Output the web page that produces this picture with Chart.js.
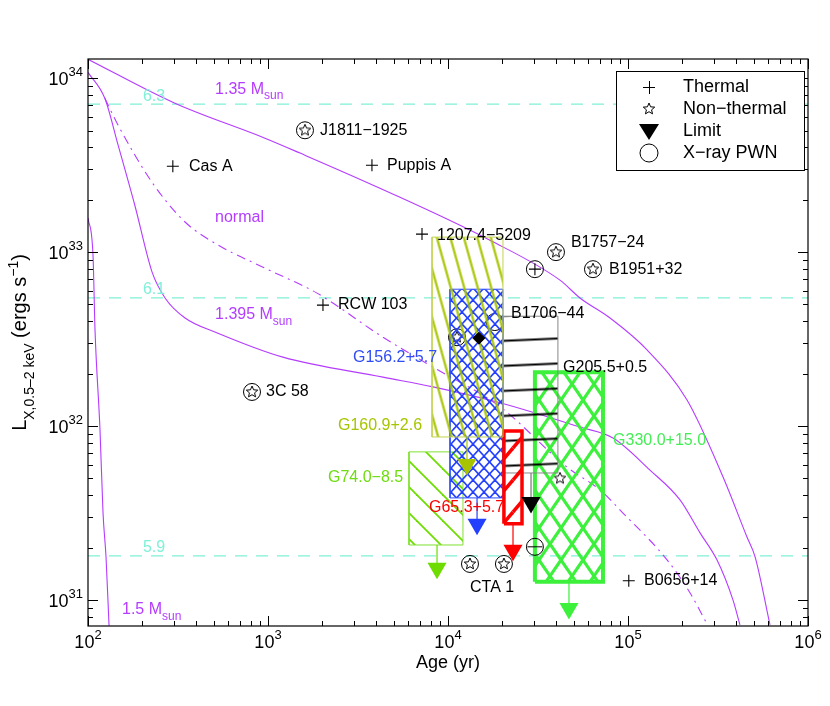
<!DOCTYPE html>
<html>
<head>
<meta charset="utf-8">
<script src="https://cdn.jsdelivr.net/npm/chart.js@4"></script>
<style>
  body { margin: 0; background: #fff; }
</style>
</head>
<body>
<canvas id="myChart" width="830" height="706"></canvas>
<script>
// cooling curves (age in yr, L in erg/s)
const age135 = [100, 304, 962, 1507, 4188, 17100, 41880, 54080, 79430, 127600, 212800, 337300, 458100, 508200, 615200];
const lum135 = [1.285e34, 7.18e33, 4.52e33, 3.71e33, 2.33e33, 1.17e33, 6.90e32, 5.45e32, 4.18e32, 2.74e32, 1.41e32, 5.09e31, 2.30e31, 1.77e31, 7.18e30];

const age1395 = [100, 124, 147, 182, 227, 268, 346, 527, 1211, 4355, 8260, 19450, 54080, 82600, 132400, 194500, 251200, 311900, 382800, 418800];
const lum1395 = [1.08e34, 7.67e33, 4.12e33, 1.86e33, 7.67e32, 5.45e32, 4.18e32, 3.42e32, 2.49e32, 1.91e32, 1.68e32, 1.36e32, 9.86e31, 8.53e31, 5.58e31, 3.76e31, 2.43e31, 1.70e31, 1.00e31, 7.18e30];

const ageNormal = [124, 147, 227, 346, 527, 962, 1871, 4355, 8260, 19450, 45810, 69870, 93760, 164800, 220800, 278000];
const lumNormal = [7.67e33, 5.37e33, 2.52e33, 1.49e33, 1.10e33, 8.09e32, 5.81e32, 3.24e32, 2.18e32, 1.29e32, 5.81e31, 4.29e31, 3.16e31, 1.70e31, 1.10e31, 7.10e30];

const age15 = [100, 106.6, 109.4, 116.6, 121.2, 125.9, 130.9];
const lum15 = [1.57e33, 9.62e32, 3.56e32, 9.48e31, 3.16e31, 1.77e31, 7.10e30];

// horizontal reference levels
const levelLum = [7.1e33, 5.45e32, 1.79e31];
const levelText = ['6.3', '6.1', '5.9'];

// sources
const thermalAge = [296, 3780, 7170, 2020, 101000, 30400];
const thermalLum = [3.12e33, 3.16e33, 1.27e33, 4.96e32, 1.29e31, 7.98e32];

const starAge = [1605, 815, 39800, 63900, 13250, 20450];
const starLum = [5.02e33, 1.57e32, 1.0e33, 7.98e32, 1.61e31, 1.61e31];

const pwnAge = [1605, 815, 39800, 63900, 13250, 20450, 30400, 30400];
const pwnLum = [5.02e33, 1.57e32, 1.0e33, 7.98e32, 1.61e31, 1.61e31, 7.98e32, 2.02e31];

// sources partly hidden under the hatched boxes
const starBehindAge = [11220, 41900];
const starBehindLum = [3.24e32, 5.0e31];
const pwnBehindAge = [11220, 18200];
const pwnBehindLum = [3.24e32, 3.96e32];

const diamondAge = [14860];
const diamondLum = [3.2e32];

// luminosity ranges of remnants with upper limits
const boxName = ['G160.9+2.6', 'G156.2+5.7', 'G74.0-8.5', 'G65.3+5.7', 'G330.0+15.0', 'G205.5+0.5'];
const boxAgeLo = [8150, 10260, 6070, 20450, 30400, 20200];
const boxAgeHi = [20200, 20200, 12110, 25770, 72600, 40800];
const boxLumLo = [8.65e31, 3.86e31, 2.07e31, 2.74e31, 1.27e31, 5.37e31];
const boxLumHi = [1.22e33, 6.12e32, 7.10e31, 9.35e31, 2.04e32, 4.28e32];
const limitAge = [12750, 14500, 8690, 22970, 47000, 28920];
const limitLum = [6.01e31, 2.72e31, 1.52e31, 1.93e31, 8.94e30, 3.63e31];

// axes
const xTickExp = [2, 3, 4, 5, 6];
const yTickExp = [31, 32, 33, 34];

// text labels
const noteText = ['Cas A', 'Puppis A', '1207.4\u22125209', 'RCW 103', 'J1811\u22121925', '3C 58', 'B1757\u221224', 'B1951+32', 'B1706\u221244', 'G205.5+0.5', 'G156.2+5.7', 'G160.9+2.6', 'G74.0\u22128.5', 'G65.3+5.7', 'G330.0+15.0', 'CTA 1', 'B0656+14'];
const noteAge = [364, 4585, 8690, 2449, 1945, 975, 48200, 78400, 22390, 43600, 2966, 2449, 2154, 7840, 82600, 13250, 122700];
const noteLum = [3.12e33, 3.16e33, 1.24e33, 5.02e32, 5.02e33, 1.57e32, 1.13e33, 7.98e32, 4.46e32, 2.18e32, 2.49e32, 1.01e32, 5.02e31, 3.38e31, 8.2e31, 1.17e31, 1.30e31];
const curveText = ['1.35 M', 'normal', '1.395 M', '1.5 M'];
const curveAge = [508, 508, 508, 154.5];
const curveLum = [8.65e33, 1.59e33, 4.35e32, 8.77e30];


const purple = '#b43cff';
const cyan = '#80f0d8';
const FONT = '"Liberation Sans", Arial, sans-serif';
const noteColor = {'G156.2+5.7': '#2f4cf5', 'G160.9+2.6': '#a8c400', 'G74.0\u22128.5': '#6edc10', 'G65.3+5.7': '#ff0000', 'G330.0+15.0': '#44ee55'};

const canvas = document.getElementById('myChart');
const ctx = canvas.getContext('2d');

function hatch(w, h, color, lw, segs, angle) {
  const c = document.createElement('canvas');
  c.width = w; c.height = h;
  const g = c.getContext('2d');
  g.strokeStyle = color; g.lineWidth = lw;
  for (const dx of [-w, 0, w]) for (const dy of [-h, 0, h]) {
    for (const s of segs) {
      g.beginPath(); g.moveTo(s[0] + dx, s[1] + dy); g.lineTo(s[2] + dx, s[3] + dy); g.stroke();
    }
  }
  const p = ctx.createPattern(c, 'repeat');
  if (angle) p.setTransform(new DOMMatrix().rotate(angle));
  return p;
}

function starImg(r) {
  const s = 2 * r + 4;
  const c = document.createElement('canvas');
  c.width = c.height = s;
  const g = c.getContext('2d');
  g.strokeStyle = '#000'; g.lineWidth = 1;
  g.beginPath();
  for (let i = 0; i < 10; i++) {
    const a = -Math.PI / 2 + i * Math.PI / 5;
    const rr = i % 2 ? r * 0.45 : r;
    const px = s / 2 + rr * Math.cos(a), py = s / 2 + rr * Math.sin(a);
    if (i) g.lineTo(px, py); else g.moveTo(px, py);
  }
  g.closePath(); g.stroke();
  return c;
}

const boxLook = [
  {edge: '#c4d450', width: 1, fill: hatch(13, 13, '#a8c400', 2.2, [[6.5, 0, 6.5, 13]], -15.5), order: 3, color: '#a8c400', stem: '#a8c400'},
  {edge: '#3050ff', width: 1, fill: hatch(11, 12, '#2440ff', 1.6, [[0, 0, 11, 12], [11, 0, 0, 12]]), order: 5, color: '#2440ff', stem: '#2440ff'},
  {edge: '#80e030', width: 1, fill: hatch(26, 26, '#6edc00', 1.8, [[0, 0, 26, 26]]), order: 8, color: '#6edc00', stem: '#6edc00'},
  {edge: '#ff0000', width: 3.5, fill: hatch(27, 32, '#ff0000', 3.5, [[0, 32, 27, 0]]), order: 4, color: '#ff0000', stem: '#ff0000'},
  {edge: '#3cf03c', width: 4, fill: hatch(22, 32, '#3cf03c', 3.2, [[0, 0, 22, 32], [22, 0, 0, 32]]), order: 7, color: '#3cf03c', stem: '#3cf03c'},
  {edge: '#888888', width: 1, fill: hatch(50, 25, '#000000', 2, [[0, 12.5, 50, 12.5]], -2.5), order: 6, color: '#000000', stem: '#777777'}
];

const pts = (xs, ys) => xs.map((v, i) => ({x: v, y: ys[i]}));

const datasets = [];

// boxes, stems and limit arrows
boxName.forEach((name, i) => {
  const look = boxLook[i];
  datasets.push({
    label: name,
    data: [
      {x: boxAgeLo[i], y: boxLumLo[i]}, {x: boxAgeHi[i], y: boxLumLo[i]},
      {x: boxAgeHi[i], y: boxLumHi[i]}, {x: boxAgeLo[i], y: boxLumHi[i]},
      {x: boxAgeLo[i], y: boxLumLo[i]}
    ],
    showLine: true, fill: 'shape', backgroundColor: look.fill,
    borderColor: look.edge, borderWidth: look.width, borderJoinStyle: 'miter',
    pointRadius: 0, order: look.order
  });
  datasets.push({
    data: [{x: limitAge[i], y: boxLumLo[i]}, {x: limitAge[i], y: limitLum[i]}],
    showLine: true, borderColor: look.stem, borderWidth: 1.2,
    pointRadius: [0, 11], pointStyle: 'triangle', rotation: 180,
    pointBackgroundColor: look.color, pointBorderWidth: 0, order: 0
  });
});

// markers
datasets.push({label: 'Thermal', data: pts(thermalAge, thermalLum), pointStyle: 'cross', pointRadius: 6, borderColor: '#000', pointBorderWidth: 1.1, order: 2});
datasets.push({label: 'Non-thermal', data: pts(starAge, starLum), pointStyle: starImg(6), order: 2});
datasets.push({label: 'X-ray PWN', data: pts(pwnAge, pwnLum), pointStyle: 'circle', pointRadius: 8.5, borderColor: '#000', backgroundColor: 'rgba(0,0,0,0)', pointBorderWidth: 1, order: 2});
datasets.push({data: [{x: pwnAge[7], y: pwnLum[7]}], pointStyle: 'line', pointRadius: 7.5, borderColor: '#000', pointBorderWidth: 1, order: 2});
datasets.push({data: pts(starBehindAge, starBehindLum), pointStyle: starImg(6), order: 9});
datasets.push({data: pts(pwnBehindAge, pwnBehindLum), pointStyle: 'circle', pointRadius: 8.5, borderColor: '#000', backgroundColor: 'rgba(0,0,0,0)', pointBorderWidth: 1, order: 9});
datasets.push({data: pts(diamondAge, diamondLum), pointStyle: 'rectRot', pointRadius: 6, backgroundColor: '#000', borderColor: '#000', order: 1});

// cooling curves
function curve(xs, ys, dash) {
  datasets.push({data: pts(xs, ys), showLine: true, borderColor: purple, borderWidth: 1.1,
    borderDash: dash, pointRadius: 0, cubicInterpolationMode: 'monotone', order: 10});
}
curve(age135, lum135, []);
curve(age1395, lum1395, []);
curve(ageNormal, lumNormal, [9, 5, 2, 5]);
curve(age15, lum15, []);

levelLum.forEach(v => {
  datasets.push({data: [{x: 100, y: v}, {x: 1e6, y: v}], showLine: true, borderColor: cyan,
    borderWidth: 1.2, borderDash: [12, 9], pointRadius: 0, order: 11});
});

function rich(c, parts, x, y, size, align) {
  let total = 0;
  const ws = parts.map(p => {
    c.font = (p[1] ? Math.round(size * 0.72) : size) + 'px ' + FONT;
    const w = c.measureText(p[0]).width; total += w; return w;
  });
  if (align === 'center') x -= total / 2;
  if (align === 'right') x -= total;
  parts.forEach((p, i) => {
    c.font = (p[1] ? Math.round(size * 0.72) : size) + 'px ' + FONT;
    const dy = p[1] === 1 ? size * 0.42 : p[1] === 2 ? -size * 0.42 : 0;
    c.fillText(p[0], x, y + dy);
    x += ws[i];
  });
  return total;
}

const decor = {
  id: 'decor',
  afterDraw(chart) {
    const c = chart.ctx;
    const a = chart.chartArea;
    const xs = chart.scales.x, ys = chart.scales.y;
    c.save();
    c.strokeStyle = '#000'; c.lineWidth = 1.2;
    c.strokeRect(a.left, a.top, a.right - a.left, a.bottom - a.top);
    c.lineWidth = 1;
    c.beginPath();
    for (let e = 2; e <= 6; e++) for (let m = 1; m < 10; m++) {
      const v = m * Math.pow(10, e);
      if (v > 1e6) break;
      const px = Math.round(xs.getPixelForValue(v)) + 0.5;
      const len = m === 1 ? 10 : 5;
      c.moveTo(px, a.bottom); c.lineTo(px, a.bottom - len);
      c.moveTo(px, a.top); c.lineTo(px, a.top + len);
    }
    for (let e = 30; e <= 34; e++) for (let m = 1; m < 10; m++) {
      const v = m * Math.pow(10, e);
      if (v < ys.min || v > ys.max) continue;
      const py = Math.round(ys.getPixelForValue(v)) + 0.5;
      const len = m === 1 ? 10 : 5;
      c.moveTo(a.left, py); c.lineTo(a.left + len, py);
      c.moveTo(a.right, py); c.lineTo(a.right - len, py);
    }
    c.stroke();

    // tick labels
    c.fillStyle = '#000';
    c.textBaseline = 'middle';
    xTickExp.forEach(e => {
      const px = xs.getPixelForValue(Math.pow(10, e));
      rich(c, [['10', 0], [String(e), 2]], px, a.bottom + 17, 18, 'center');
    });
    yTickExp.forEach(e => {
      const py = ys.getPixelForValue(Math.pow(10, e));
      rich(c, [['10', 0], [String(e), 2]], a.left - 5, py + 2, 18, 'right');
    });
    c.font = '18px ' + FONT;
    c.textAlign = 'center';
    c.fillText('Age (yr)', (a.left + a.right) / 2, 663);
    c.textAlign = 'left';
    // y title
    c.save();
    c.translate(26, (a.top + a.bottom) / 2);
    c.rotate(-Math.PI / 2);
    c.textBaseline = 'alphabetic';
    rich(c, [['L', 0], ['X,0.5\u20132 keV', 1], [' (ergs s', 0], ['\u22121', 2], [')', 0]], 0, 0, 20, 'center');
    c.restore();

    // notes
    c.textBaseline = 'middle';
    noteText.forEach((t, i) => {
      c.fillStyle = noteColor[t] || '#000';
      c.font = '16px ' + FONT;
      c.fillText(t, xs.getPixelForValue(noteAge[i]), ys.getPixelForValue(noteLum[i]));
    });
    c.fillStyle = purple;
    curveText.forEach((t, i) => {
      const parts = t === 'normal' ? [[t, 0]] : [[t, 0], ['sun', 1]];
      rich(c, parts, xs.getPixelForValue(curveAge[i]), ys.getPixelForValue(curveLum[i]), 16, 'left');
    });
    c.fillStyle = cyan;
    levelText.forEach((t, i) => {
      c.font = '16px ' + FONT;
      c.fillText(t, xs.getPixelForValue(202), ys.getPixelForValue(levelLum[i]) - 8);
    });

    // legend
    c.fillStyle = '#fff';
    c.fillRect(616, 71, 188, 99);
    c.strokeStyle = '#000'; c.lineWidth = 1;
    c.strokeRect(616.5, 71.5, 188, 99);
    c.fillStyle = '#000';
    c.font = '18px ' + FONT;
    const lx = 649;
    ['Thermal', 'Non\u2212thermal', 'Limit', 'X\u2212ray PWN'].forEach((t, i) => c.fillText(t, 683, 87 + i * 22));
    c.beginPath();
    c.moveTo(lx - 6, 87.5); c.lineTo(lx + 6, 87.5);
    c.moveTo(lx + 0.5, 81); c.lineTo(lx + 0.5, 94);
    c.stroke();
    c.drawImage(starImg(6), lx - 8, 109 - 8);
    c.beginPath();
    c.moveTo(lx - 10, 124); c.lineTo(lx + 10, 124); c.lineTo(lx, 140); c.closePath(); c.fill();
    c.beginPath(); c.arc(lx, 153, 9, 0, 2 * Math.PI); c.stroke();
    c.restore();
  }
};

new Chart(canvas, {
  type: 'scatter',
  data: {datasets: datasets},
  options: {
    responsive: false,
    animation: false,
    events: [],
    layout: {padding: {left: 88, top: 59, right: 22, bottom: 80}},
    plugins: {legend: {display: false}, tooltip: {enabled: false}},
    scales: {
      x: {type: 'logarithmic', min: 100, max: 1e6, display: false},
      y: {type: 'logarithmic', min: 7.08e30, max: 1.29e34, display: false}
    }
  },
  plugins: [decor]
});
</script>
</body>
</html>
